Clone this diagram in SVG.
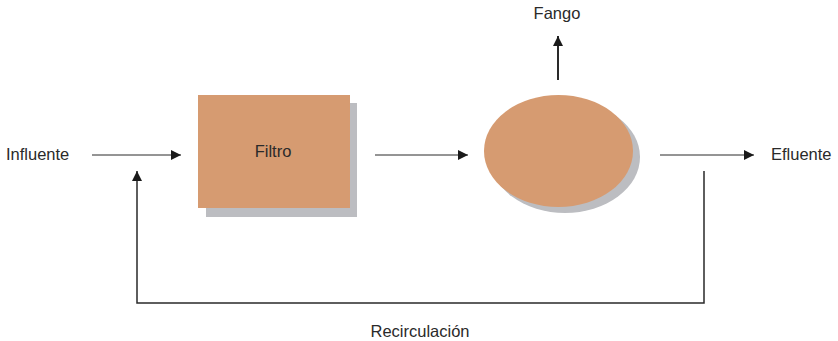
<svg xmlns="http://www.w3.org/2000/svg" width="838" height="341" viewBox="0 0 838 341">
<style>
text{font-family:"Liberation Sans",Arial,sans-serif;font-size:16.5px;fill:#2a2a2a}
.ln{stroke:#2a2a2a;fill:none}
.shadow{fill:#bcbdc1}
.body{fill:#d69b71}
</style>
<defs>
<marker id="ah" viewBox="0 0 10 10" refX="10" refY="5" markerWidth="12" markerHeight="10" markerUnits="userSpaceOnUse" orient="auto">
<path d="M0,0 L10,5 L0,10 z" fill="#1a1a1a"/>
</marker>
</defs>
<rect width="838" height="341" fill="#fff"/>
<g id="filtro">
<rect class="shadow" x="206" y="103" width="151" height="114"/>
<rect class="body" x="198" y="95" width="152" height="113"/>
<text x="273" y="157" text-anchor="middle">Filtro</text>
</g>
<g id="decantador">
<ellipse class="shadow" cx="565" cy="157" rx="75" ry="56"/>
<ellipse class="body" cx="558.5" cy="151" rx="74.5" ry="56"/>
</g>
<g id="labels">
<text id="influente" x="6" y="160">Influente</text>
<text id="efluente" x="771" y="160">Efluente</text>
<text id="fango" x="557" y="19" text-anchor="middle">Fango</text>
<text id="recirculacion" x="420" y="337" text-anchor="middle">Recirculación</text>
</g>
<g id="connectors">
<line class="ln" x1="92" y1="155" x2="181" y2="155" marker-end="url(#ah)"/>
<line class="ln" x1="375" y1="155" x2="468" y2="155" marker-end="url(#ah)"/>
<line class="ln" x1="660" y1="155" x2="754" y2="155" marker-end="url(#ah)"/>
<line class="ln" x1="558" y1="80" x2="558" y2="36" stroke-width="2" marker-end="url(#ah)"/>
<polyline class="ln" points="704,171 704,303 137,303 137,171" stroke-width="1.5" marker-end="url(#ah)"/>
</g>
</svg>
